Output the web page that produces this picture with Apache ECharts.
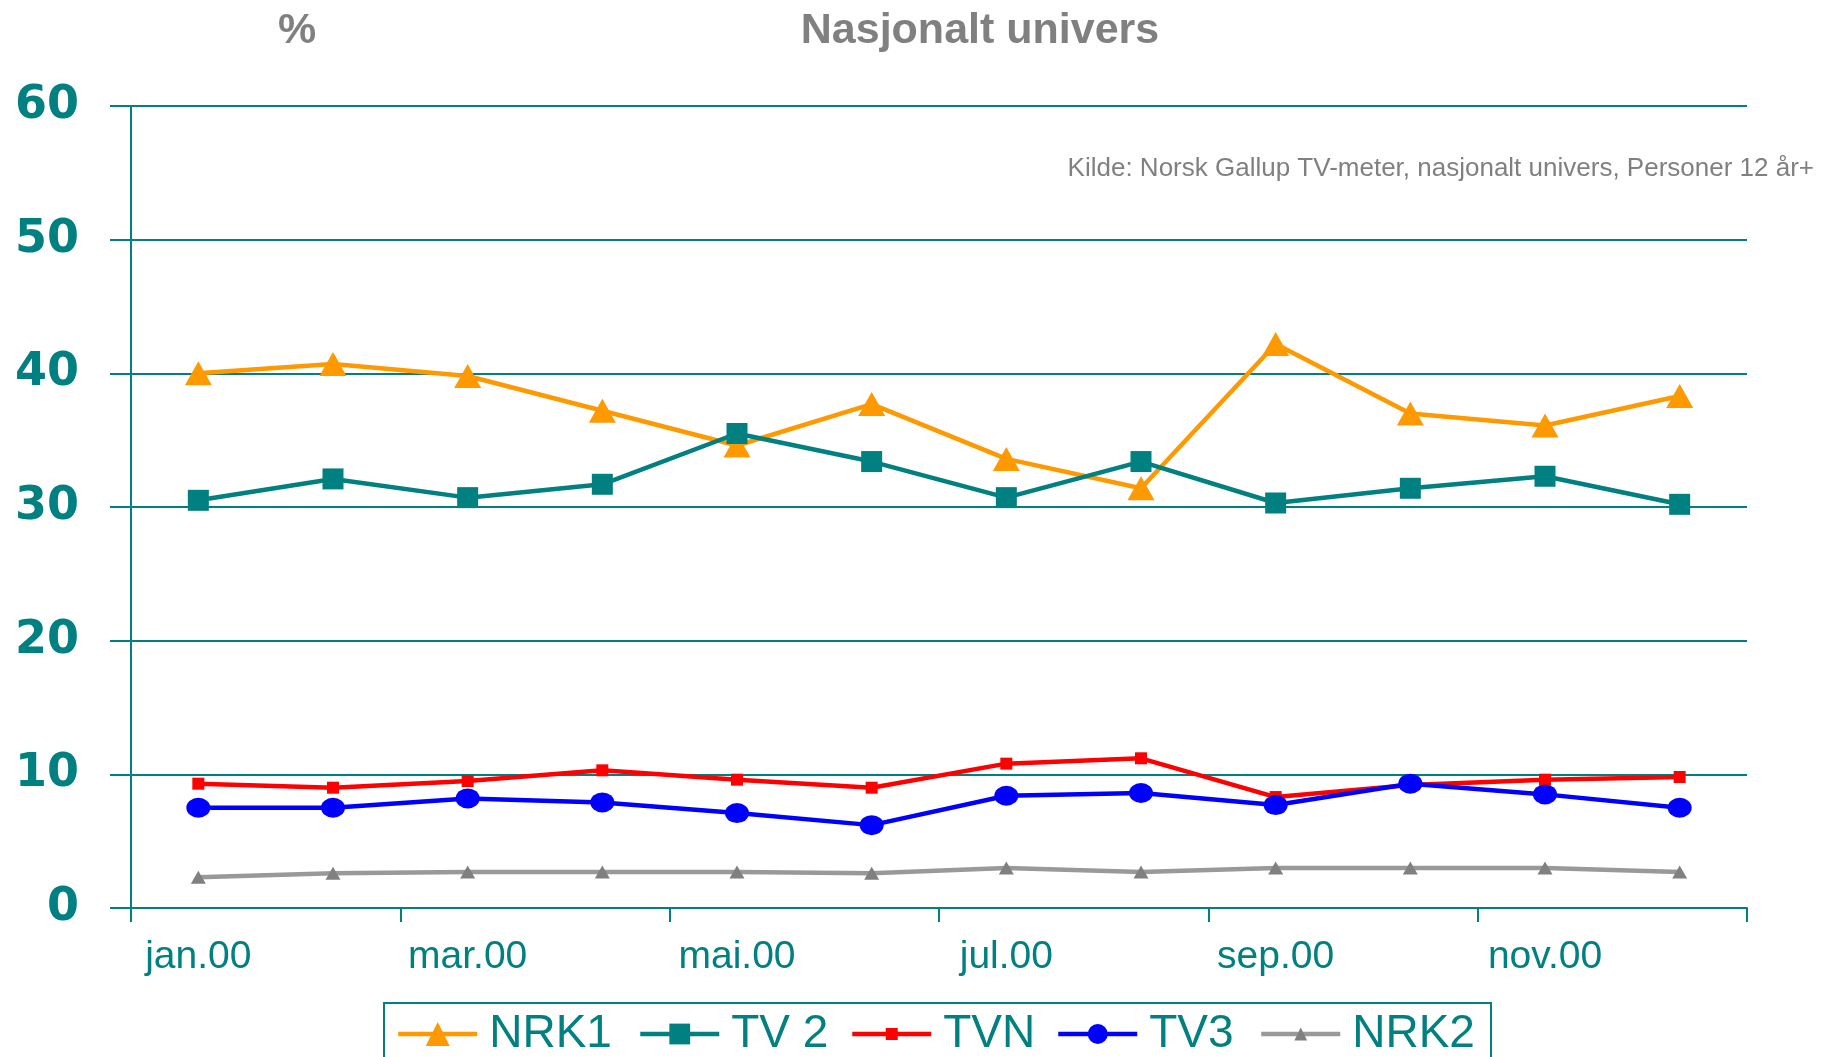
<!DOCTYPE html>
<html>
<head>
	<meta charset="utf-8" />
	<title>Nasjonalt univers</title>
	<script src="https://cdn.jsdelivr.net/npm/echarts@6/dist/echarts.min.js"></script>
	<style>
		html, body { margin: 0; padding: 0; background: #fff; }
		#main { width: 1825px; height: 1057px; }
	</style>
</head>
<body>
	<div id="main"></div>
	<script type="text/javascript">
		// måneder og seertall (%)
		var months = ['jan.00', 'feb.00', 'mar.00', 'apr.00', 'mai.00', 'jun.00',
			'jul.00', 'aug.00', 'sep.00', 'okt.00', 'nov.00', 'des.00'];
		var nrk1 = [40.0, 40.7, 39.8, 37.2, 34.6, 37.7, 33.6, 31.4, 42.2, 37.0, 36.1, 38.3];
		var tv2 = [30.5, 32.1, 30.7, 31.7, 35.5, 33.4, 30.7, 33.4, 30.3, 31.4, 32.3, 30.2];
		var tvn = [9.3, 9.0, 9.5, 10.3, 9.6, 9.0, 10.8, 11.2, 8.3, 9.2, 9.6, 9.8];
		var tv3 = [7.5, 7.5, 8.2, 7.9, 7.1, 6.2, 8.4, 8.6, 7.7, 9.3, 8.5, 7.5];
		var nrk2 = [2.3, 2.6, 2.7, 2.7, 2.7, 2.6, 3.0, 2.7, 3.0, 3.0, 3.0, 2.7];
		var yTicks = [0, 10, 20, 30, 40, 50, 60];

		var teal = '#008080';
		var sans = '"Liberation Sans", Arial, sans-serif';

		var dom = document.getElementById('main');
		var myChart = echarts.init(dom, null, { renderer: 'canvas' });

		function lineSeries(name, data, color, symbol, size, lineColor) {
			return {
				name: name,
				type: 'line',
				data: data,
				symbol: symbol,
				symbolSize: size,
				showAllSymbol: true,
				lineStyle: { color: lineColor || color, width: 4.5 },
				itemStyle: { color: color },
				emphasis: { disabled: true }
			};
		}

		// en legend per serie, så symbolene får ulik størrelse
		function oneLegend(name, left, itemHeight) {
			return {
				data: [name],
				left: left,
				top: 1009,
				padding: 0,
				itemWidth: 79,
				itemHeight: itemHeight,
				lineStyle: { width: 4.5 },
				textStyle: {
					color: teal,
					fontSize: 46,
					lineHeight: 50,
					fontFamily: sans,
					padding: [0, 0, 0, 7]
				}
			};
		}

		var option = {
			animation: false,
			backgroundColor: '#ffffff',
			title: [
				{
					text: 'Nasjonalt univers',
					left: 975,
					textAlign: 'center',
					top: 5,
					textStyle: { color: '#808080', fontSize: 43, fontWeight: 'bold', fontFamily: sans }
				},
				{
					text: '%',
					left: 292,
					textAlign: 'center',
					top: 5,
					textStyle: { color: '#808080', fontSize: 43, fontWeight: 'bold', fontFamily: sans }
				},
				{
					text: 'Kilde: Norsk Gallup TV-meter, nasjonalt univers, Personer 12 år+',
					right: 6,
					top: 151,
					textStyle: { color: '#808080', fontSize: 26, fontWeight: 'normal', fontFamily: sans }
				}
			],
			legend: [
				oneLegend('NRK1', 396, 30),
				oneLegend('TV 2', 638, 26),
				oneLegend('TVN', 850, 15),
				oneLegend('TV3', 1056, 25),
				oneLegend('NRK2', 1259, 16)
			],
			graphic: [
				{
					type: 'rect',
					shape: { x: 384, y: 1003, width: 1107, height: 70 },
					style: { fill: 'none', stroke: teal, lineWidth: 2 },
					silent: true
				}
			],
			grid: { left: 131, right: 78, top: 106, bottom: 149 },
			xAxis: {
				type: 'category',
				data: months,
				boundaryGap: true,
				axisLine: { lineStyle: { color: teal, width: 2 } },
				axisTick: { show: true, interval: 1, length: 14, lineStyle: { color: teal, width: 2 } },
				axisLabel: { interval: 1, color: teal, fontSize: 39, margin: 30, fontFamily: sans }
			},
			yAxis: {
				type: 'value',
				min: yTicks[0],
				max: yTicks[yTicks.length - 1],
				interval: 10,
				axisLine: { show: true, lineStyle: { color: teal, width: 2 } },
				axisTick: { show: true, length: 21, lineStyle: { color: teal, width: 2 } },
				splitLine: { show: true, lineStyle: { color: teal, width: 2 } },
				axisLabel: {
					color: teal, fontSize: 46, fontWeight: 'bold', margin: 52,
					padding: [7, 0, 0, 0],
					fontFamily: '"DejaVu Sans", Verdana, sans-serif'
				}
			},
			series: [
				lineSeries('NRK1', nrk1, '#ff9900', 'triangle', [27, 24]),
				lineSeries('TV 2', tv2, teal, 'rect', 21),
				lineSeries('TVN', tvn, '#ff0000', 'rect', 12),
				lineSeries('TV3', tv3, '#0000ff', 'circle', [24, 20]),
				lineSeries('NRK2', nrk2, '#808080', 'triangle', [15, 13], '#999999')
			]
		};

		myChart.setOption(option);
		window.addEventListener('resize', myChart.resize);
	</script>
</body>
</html>
